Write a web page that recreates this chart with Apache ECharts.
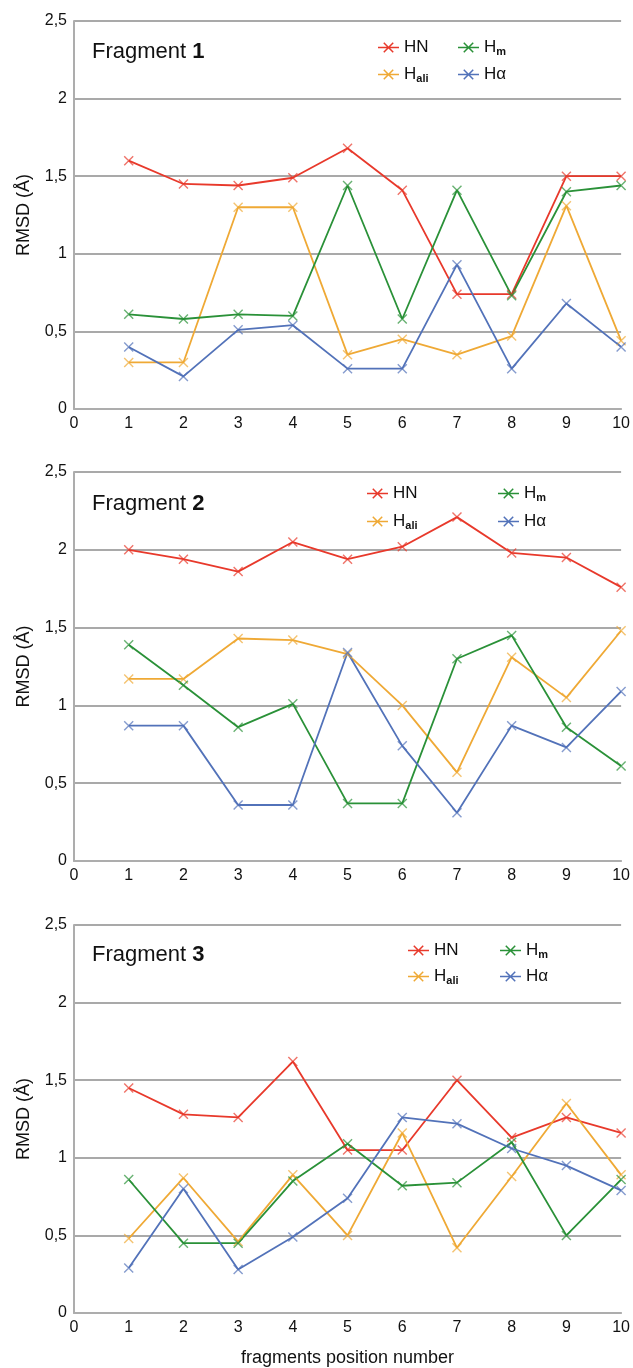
<!DOCTYPE html>
<html>
<head>
<meta charset="utf-8">
<script src="https://cdn.jsdelivr.net/npm/echarts@6/dist/echarts.min.js"></script>
<style>
  html, body { margin: 0; padding: 0; background: #fff; }
  #chart { width: 633px; height: 1368px; }
</style>
</head>
<body>
<div id="chart"></div>
<script>
// x positions of the fragments
const positions = [1, 2, 3, 4, 5, 6, 7, 8, 9, 10];

// Fragment 1
const f1HN = [1.60, 1.45, 1.44, 1.49, 1.68, 1.41, 0.74, 0.74, 1.50, 1.50];
const f1Hm = [0.61, 0.58, 0.61, 0.60, 1.44, 0.58, 1.41, 0.73, 1.40, 1.44];
const f1Hali = [0.30, 0.30, 1.30, 1.30, 0.35, 0.45, 0.35, 0.47, 1.31, 0.44];
const f1Ha = [0.40, 0.21, 0.51, 0.54, 0.26, 0.26, 0.93, 0.26, 0.68, 0.40];

// Fragment 2
const f2HN = [2.00, 1.94, 1.86, 2.05, 1.94, 2.02, 2.21, 1.98, 1.95, 1.76];
const f2Hm = [1.39, 1.13, 0.86, 1.01, 0.37, 0.37, 1.30, 1.45, 0.86, 0.61];
const f2Hali = [1.17, 1.17, 1.43, 1.42, 1.33, 1.00, 0.57, 1.31, 1.05, 1.48];
const f2Ha = [0.87, 0.87, 0.36, 0.36, 1.34, 0.74, 0.31, 0.87, 0.73, 1.09];

// Fragment 3
const f3HN = [1.45, 1.28, 1.26, 1.62, 1.05, 1.05, 1.50, 1.13, 1.26, 1.16];
const f3Hm = [0.86, 0.45, 0.45, 0.85, 1.09, 0.82, 0.84, 1.10, 0.50, 0.86];
const f3Hali = [0.48, 0.87, 0.46, 0.89, 0.50, 1.16, 0.42, 0.88, 1.35, 0.89];
const f3Ha = [0.29, 0.80, 0.28, 0.49, 0.74, 1.26, 1.22, 1.06, 0.95, 0.79];

const fragments = [
  { label: "1", HN: f1HN, Hm: f1Hm, Hali: f1Hali, Ha: f1Ha },
  { label: "2", HN: f2HN, Hm: f2Hm, Hali: f2Hali, Ha: f2Ha },
  { label: "3", HN: f3HN, Hm: f3Hm, Hali: f3Hali, Ha: f3Ha },
];

const FONT = "Liberation Sans, Arial, sans-serif";
const colors = { HN: "#e8392b", Hm: "#2a9138", Hali: "#efa935", "Hα": "#5272b9" };

const crossPath = "path://M0,1 L1,0 L10,9 L9,10 Z M9,0 L10,1 L1,10 L0,9 Z";
const legendIcon = "path://M0,4.2 L20,4.2 L20,5.8 L0,5.8 Z M5,1 L6,0 L15,9 L14,10 Z M14,0 L15,1 L6,10 L5,9 Z";

// panel layout
const grids = [
  { top: 21, height: 388, titleTop: 36, legendLeft: [373, 453], legendTop: [34, 61] },
  { top: 472, height: 389, titleTop: 488, legendLeft: [362, 493], legendTop: [480, 508] },
  { top: 925, height: 388, titleTop: 939, legendLeft: [403, 495], legendTop: [937, 963] },
];

const legendRich = {
  a: { fontSize: 17, fontFamily: FONT, color: "#111", lineHeight: 20 },
  s: { fontSize: 11, fontFamily: FONT, color: "#111", fontWeight: "bold", lineHeight: 20, verticalAlign: "bottom" },
};
function legendText(name) {
  if (name === "Hm") return "{a|H}{s|m}";
  if (name === "Hali") return "{a|H}{s|ali}";
  return "{a|" + name + "}";
}

const option = {
  animation: false,
  backgroundColor: "#fff",
  title: [],
  legend: [],
  grid: [],
  xAxis: [],
  yAxis: [],
  series: [],
};

grids.forEach((g, i) => {
  const frag = fragments[i];
  option.grid.push({ left: 74, right: 11, top: g.top, height: g.height });

  option.title.push({
    text: "{a|Fragment }{b|" + frag.label + "}",
    left: 87,
    top: g.titleTop,
    textStyle: {
      fontWeight: "normal",
      rich: {
        a: { fontSize: 22, fontFamily: FONT, color: "#111", fontWeight: "normal" },
        b: { fontSize: 22, fontFamily: FONT, color: "#111", fontWeight: "bold" },
      },
    },
  });

  const legendLayout = [
    ["HN", 0, 0], ["Hm", 1, 0], ["Hali", 0, 1], ["Hα", 1, 1],
  ];
  legendLayout.forEach(([name, c, r]) => {
    option.legend.push({
      data: [name],
      left: g.legendLeft[c],
      top: g.legendTop[r],
      icon: legendIcon,
      itemWidth: 21,
      itemHeight: 11,
      selectedMode: false,
      itemStyle: { color: colors[name], opacity: 1 },
      formatter: legendText,
      textStyle: { rich: legendRich },
    });
  });

  option.xAxis.push({
    gridIndex: i,
    type: "value",
    min: 0,
    max: 10,
    interval: 1,
    axisLine: { show: true, lineStyle: { color: "#adadad", width: 2 } },
    axisTick: { show: false },
    splitLine: { show: false },
    axisLabel: { fontSize: 16, fontFamily: FONT, color: "#111", margin: 7, showMinLabel: true, showMaxLabel: true },
    name: i === 2 ? "fragments position number" : "",
    nameLocation: "middle",
    nameGap: 36,
    nameTextStyle: { fontSize: 18, fontFamily: FONT, color: "#111" },
  });

  option.yAxis.push({
    gridIndex: i,
    type: "value",
    min: 0,
    max: 2.5,
    interval: 0.5,
    axisLine: { show: true, lineStyle: { color: "#adadad", width: 2 } },
    axisTick: { show: false },
    splitLine: { show: true, lineStyle: { color: "#a9a9a9", width: 2 } },
    axisLabel: {
      fontSize: 16, fontFamily: FONT, color: "#111", margin: 7,
      formatter: (v) => String(v).replace(".", ","),
    },
    name: "RMSD (Å)",
    nameLocation: "middle",
    nameGap: 41,
    nameTextStyle: { fontSize: 18, fontFamily: FONT, color: "#111" },
  });

  [["HN", frag.HN], ["Hali", frag.Hali], ["Hm", frag.Hm], ["Hα", frag.Ha]].forEach(([name, vals]) => {
    option.series.push({
      name: name,
      type: "line",
      xAxisIndex: i,
      yAxisIndex: i,
      data: positions.map((p, k) => [p, vals[k]]),
      symbol: crossPath,
      symbolSize: 10,
      showAllSymbol: true,
      lineStyle: { color: colors[name], width: 1.8 },
      itemStyle: { color: colors[name], opacity: 0.7 },
    });
  });
});

const chart = echarts.init(document.getElementById("chart"), null, { renderer: "canvas" });
chart.setOption(option);
</script>
</body>
</html>
